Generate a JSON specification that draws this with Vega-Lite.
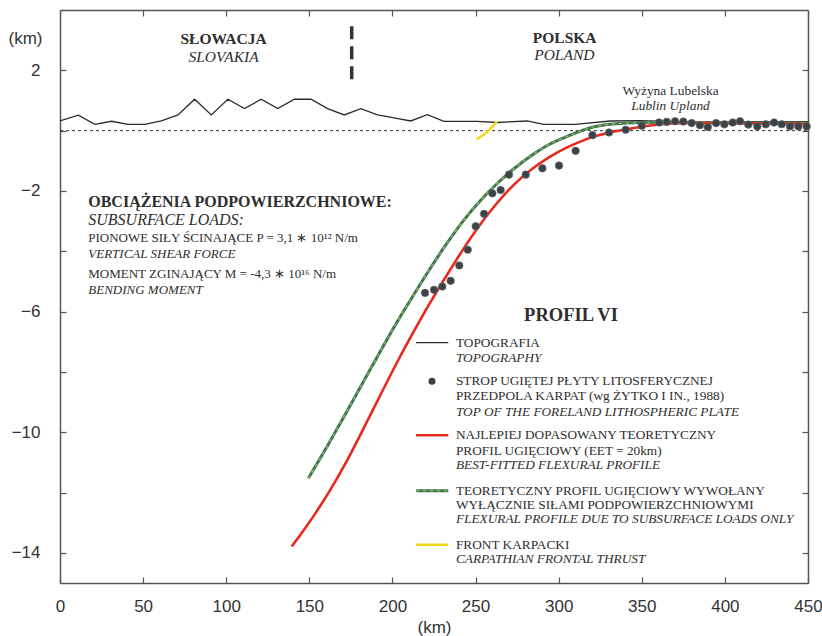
{
  "$schema": "https://vega.github.io/schema/vega-lite/v6.json",
  "width": 748,
  "height": 573,
  "autosize": {"type": "none"},
  "padding": {"left": 60, "top": 10, "right": 14, "bottom": 53},
  "background": "white",
  "config": {"view": {"stroke": null}},
  "datasets": {
    "topo": [
      {"x": 0, "y": 0.32}, {"x": 11, "y": 0.51}, {"x": 21, "y": 0.21}, {"x": 31, "y": 0.31}, {"x": 41, "y": 0.21},
      {"x": 51, "y": 0.21}, {"x": 61, "y": 0.32}, {"x": 71, "y": 0.52}, {"x": 81, "y": 1.04}, {"x": 91, "y": 0.52},
      {"x": 101, "y": 1.04}, {"x": 111, "y": 0.73}, {"x": 121, "y": 1.04}, {"x": 131, "y": 0.73}, {"x": 141, "y": 1.04},
      {"x": 151, "y": 1.04}, {"x": 161, "y": 0.73}, {"x": 171, "y": 0.52}, {"x": 181, "y": 0.73}, {"x": 191, "y": 0.52},
      {"x": 201, "y": 0.42}, {"x": 211, "y": 0.32}, {"x": 221, "y": 0.53}, {"x": 231, "y": 0.31}, {"x": 241, "y": 0.31},
      {"x": 251, "y": 0.31}, {"x": 263, "y": 0.27}, {"x": 281, "y": 0.32}, {"x": 291, "y": 0.21}, {"x": 310, "y": 0.21},
      {"x": 331, "y": 0.32}, {"x": 349, "y": 0.33}, {"x": 370, "y": 0.3}, {"x": 400, "y": 0.3}, {"x": 430, "y": 0.3},
      {"x": 450, "y": 0.3}
    ],
    "fit": [
      {"x": 139.4, "y": -13.79}, {"x": 146, "y": -13.3}, {"x": 152.4, "y": -12.8}, {"x": 162.4, "y": -11.95}, {"x": 172.5, "y": -10.98},
      {"x": 182.5, "y": -9.89}, {"x": 192.5, "y": -8.79}, {"x": 202.6, "y": -7.69}, {"x": 212.6, "y": -6.68},
      {"x": 222.6, "y": -5.7}, {"x": 232.6, "y": -4.8}, {"x": 242.6, "y": -3.92}, {"x": 252.7, "y": -3.1},
      {"x": 262.7, "y": -2.4}, {"x": 272.7, "y": -1.79}, {"x": 283.5, "y": -1.27}, {"x": 294.8, "y": -0.85},
      {"x": 304.8, "y": -0.55}, {"x": 314.8, "y": -0.32}, {"x": 320.7, "y": -0.2}, {"x": 330.5, "y": -0.06},
      {"x": 340.9, "y": 0.04}, {"x": 350.7, "y": 0.14}, {"x": 361, "y": 0.22}, {"x": 375, "y": 0.26},
      {"x": 400, "y": 0.25}, {"x": 425, "y": 0.24}, {"x": 450, "y": 0.22}
    ],
    "sub": [
      {"x": 149.4, "y": -11.53}, {"x": 162.4, "y": -10.31}, {"x": 172.5, "y": -9.32}, {"x": 182.5, "y": -8.33},
      {"x": 192.5, "y": -7.34}, {"x": 202.6, "y": -6.36}, {"x": 212.6, "y": -5.46}, {"x": 222.6, "y": -4.58},
      {"x": 232.6, "y": -3.75}, {"x": 242.6, "y": -2.99}, {"x": 252.7, "y": -2.33}, {"x": 262.7, "y": -1.77},
      {"x": 272.7, "y": -1.28}, {"x": 284.7, "y": -0.78}, {"x": 294.5, "y": -0.45}, {"x": 304.8, "y": -0.2},
      {"x": 320.7, "y": 0.12}, {"x": 340.9, "y": 0.25}, {"x": 361, "y": 0.28}, {"x": 400, "y": 0.27},
      {"x": 450, "y": 0.25}
    ],
    "front": [
      {"x": 262.7, "y": 0.3}, {"x": 260.5, "y": 0.15}, {"x": 258.7, "y": 0.05}, {"x": 256.7, "y": -0.06},
      {"x": 253.5, "y": -0.19}, {"x": 250.7, "y": -0.28}
    ],
    "strop": [
      {"x": 219.6, "y": -5.38}, {"x": 225.0, "y": -5.28}, {"x": 230.0, "y": -5.17}, {"x": 235.0, "y": -4.98},
      {"x": 240.2, "y": -4.47}, {"x": 245.3, "y": -3.95}, {"x": 250.1, "y": -3.17}, {"x": 255.1, "y": -2.76},
      {"x": 260.1, "y": -2.08}, {"x": 265.1, "y": -1.97}, {"x": 270.1, "y": -1.46}, {"x": 280.2, "y": -1.46},
      {"x": 290.2, "y": -1.25}, {"x": 300.2, "y": -1.16}, {"x": 310.2, "y": -0.67}, {"x": 320.3, "y": -0.15},
      {"x": 330.3, "y": -0.06}, {"x": 340.3, "y": 0.03}, {"x": 350.0, "y": 0.16}, {"x": 360.4, "y": 0.27},
      {"x": 365.0, "y": 0.29}, {"x": 370.0, "y": 0.31}, {"x": 375.0, "y": 0.3}, {"x": 380.0, "y": 0.25},
      {"x": 385.0, "y": 0.18}, {"x": 389.7, "y": 0.12}, {"x": 394.7, "y": 0.25}, {"x": 399.7, "y": 0.21},
      {"x": 404.7, "y": 0.27}, {"x": 409.1, "y": 0.31}, {"x": 414.1, "y": 0.2}, {"x": 419.5, "y": 0.14},
      {"x": 424.6, "y": 0.21}, {"x": 429.6, "y": 0.27}, {"x": 434.2, "y": 0.21}, {"x": 439.2, "y": 0.14},
      {"x": 444.2, "y": 0.14}, {"x": 449.2, "y": 0.14}
    ],
    "zero": [{"x": 0, "x2": 450, "y": 0}],
    "border": [{"x": 175.5, "y": 1.64, "y2": 3.46}],
    "legTopo": [{"x": 214.2, "x2": 233.6, "y": -7.03}],
    "legFit": [{"x": 214.2, "x2": 233.6, "y": -10.10}],
    "legSub": [{"x": 214.2, "x2": 233.6, "y": -11.94}],
    "legFront": [{"x": 214.2, "x2": 233.6, "y": -13.73}],
    "legDot": [{"x": 223.8, "y": -8.31}],
    "tCountryB": [{"x": 98.4, "y": 3.03, "t": "SŁOWACJA"}, {"x": 303.6, "y": 3.06, "t": "POLSKA"}],
    "tCountryI": [{"x": 98.4, "y": 2.43, "t": "SLOVAKIA"}, {"x": 303.4, "y": 2.5, "t": "POLAND"}],
    "tUplandR": [{"x": 367.3, "y": 1.31, "t": "Wyżyna Lubelska"}],
    "tUplandI": [{"x": 367.3, "y": 0.81, "t": "Lublin Upland"}],
    "tHeadB": [{"x": 17, "y": -2.36, "t": "OBCIĄŻENIA PODPOWIERZCHNIOWE:"}],
    "tHeadI": [{"x": 17, "y": -2.95, "t": "SUBSURFACE LOADS:"}],
    "tBlockR": [
      {"x": 17, "y": -3.57, "t": "PIONOWE SIŁY ŚCINAJĄCE P = 3,1 ∗ 10¹² N/m"},
      {"x": 17, "y": -4.77, "t": "MOMENT ZGINAJĄCY M = -4,3 ∗ 10¹⁶ N/m"}
    ],
    "tBlockI": [
      {"x": 17, "y": -4.08, "t": "VERTICAL SHEAR FORCE"},
      {"x": 17, "y": -5.27, "t": "BENDING MOMENT"}
    ],
    "tProfil": [{"x": 307.4, "y": -6.11, "t": "PROFIL VI"}],
    "tLegR": [
      {"x": 238.2, "y": -7.03, "t": "TOPOGRAFIA"},
      {"x": 238.2, "y": -8.31, "t": "STROP UGIĘTEJ PŁYTY LITOSFERYCZNEJ"},
      {"x": 238.2, "y": -8.81, "t": "PRZEDPOLA KARPAT (wg ŻYTKO I IN., 1988)"},
      {"x": 238.2, "y": -10.1, "t": "NAJLEPIEJ DOPASOWANY TEORETYCZNY"},
      {"x": 238.2, "y": -10.63, "t": "PROFIL UGIĘCIOWY (EET = 20km)"},
      {"x": 238.2, "y": -11.94, "t": "TEORETYCZNY PROFIL UGIĘCIOWY WYWOŁANY"},
      {"x": 238.2, "y": -12.41, "t": "WYŁĄCZNIE SIŁAMI PODPOWIERZCHNIOWYMI"},
      {"x": 238.2, "y": -13.73, "t": "FRONT KARPACKI"}
    ],
    "tLegI": [
      {"x": 238.2, "y": -7.53, "t": "TOPOGRAPHY"},
      {"x": 238.2, "y": -9.32, "t": "TOP OF THE FORELAND LITHOSPHERIC PLATE"},
      {"x": 238.2, "y": -11.09, "t": "BEST-FITTED FLEXURAL PROFILE"},
      {"x": 238.2, "y": -12.88, "t": "FLEXURAL PROFILE DUE TO SUBSURFACE LOADS ONLY"},
      {"x": 238.2, "y": -14.21, "t": "CARPATHIAN FRONTAL THRUST"}
    ]
  },
  "resolve": {"axis": {"x": "independent", "y": "independent"}},
  "layer": [
    {
      "layer": [
        {
          "data": {"name": "topo"},
          "mark": {"type": "line", "color": "#2b2b2b", "strokeWidth": 1.3},
          "encoding": {
            "x": {
              "field": "x", "type": "quantitative",
              "scale": {"domain": [0, 450], "nice": false, "zero": false},
              "axis": {
                "orient": "bottom", "values": [0, 50, 100, 150, 200, 250, 300, 350, 400, 450],
                "grid": false, "tickSize": -6, "tickColor": "#555", "tickWidth": 1.2,
                "domainColor": "#555", "domainWidth": 1.5,
                "labelFont": "Liberation Sans", "labelFontSize": 17, "labelColor": "#333", "labelPadding": 21,
                "labelFlush": false,
                "title": "(km)", "titleFont": "Liberation Sans", "titleFontSize": 17, "titleFontWeight": "normal",
                "titleColor": "#333", "titleX": 374, "titleY": 44, "titleBaseline": "middle", "titleAnchor": null
              }
            },
            "y": {
              "field": "y", "type": "quantitative",
              "scale": {"domain": [-15, 4], "nice": false, "zero": false},
              "axis": {
                "orient": "left", "values": [-14, -12, -10, -8, -6, -4, -2, 0, 2],
                "labelExpr": "abs(datum.value) % 4 == 2 ? datum.label : ''",
                "grid": false, "tickSize": -6, "tickColor": "#555", "tickWidth": 1.2,
                "domainColor": "#555", "domainWidth": 1.5,
                "labelFont": "Liberation Sans", "labelFontSize": 17, "labelColor": "#333", "labelPadding": 26,
                "labelFlush": false,
                "title": "(km)", "titleFont": "Liberation Sans", "titleFontSize": 17, "titleFontWeight": "normal",
                "titleColor": "#333", "titleAngle": 0, "titleX": -35, "titleY": 28,
                "titleAlign": "center", "titleBaseline": "middle", "titleAnchor": null
              }
            }
          }
        },
        {
          "data": {"name": "zero"},
          "mark": {"type": "rule", "color": "#333", "strokeWidth": 1, "strokeDash": [3, 3]},
          "encoding": {"x": {"field": "x", "type": "quantitative"}, "x2": {"field": "x2"}, "y": {"field": "y", "type": "quantitative"}}
        },
        {
          "data": {"name": "border"},
          "mark": {"type": "rule", "color": "#333", "strokeWidth": 3.5, "strokeDash": [13, 7]},
          "encoding": {"x": {"field": "x", "type": "quantitative"}, "y": {"field": "y2", "type": "quantitative"}, "y2": {"field": "y"}}
        },
        {
          "data": {"name": "sub"},
          "mark": {"type": "line", "color": "#3f7849", "strokeWidth": 3, "interpolate": "monotone"},
          "encoding": {"x": {"field": "x", "type": "quantitative"}, "y": {"field": "y", "type": "quantitative"}}
        },
        {
          "data": {"name": "sub"},
          "mark": {"type": "line", "color": "#a9c07e", "strokeWidth": 1.1, "strokeDash": [3, 4], "interpolate": "monotone"},
          "encoding": {"x": {"field": "x", "type": "quantitative"}, "y": {"field": "y", "type": "quantitative"}}
        },
        {
          "data": {"name": "fit"},
          "mark": {"type": "line", "color": "#e8281c", "strokeWidth": 2.6, "interpolate": "basis"},
          "encoding": {"x": {"field": "x", "type": "quantitative"}, "y": {"field": "y", "type": "quantitative"}}
        },
        {
          "data": {"name": "front"},
          "mark": {"type": "line", "color": "#f2d81e", "strokeWidth": 2.5, "interpolate": "monotone"},
          "encoding": {"x": {"field": "x", "type": "quantitative"}, "y": {"field": "y", "type": "quantitative"}}
        },
        {
          "data": {"name": "strop"},
          "mark": {"type": "circle", "color": "#3c4346", "opacity": 1, "size": 58, "stroke": "#6a7174", "strokeWidth": 0.6},
          "encoding": {"x": {"field": "x", "type": "quantitative"}, "y": {"field": "y", "type": "quantitative"}}
        },
        {
          "data": {"name": "legTopo"},
          "mark": {"type": "rule", "color": "#2b2b2b", "strokeWidth": 1.3},
          "encoding": {"x": {"field": "x", "type": "quantitative"}, "x2": {"field": "x2"}, "y": {"field": "y", "type": "quantitative"}}
        },
        {
          "data": {"name": "legFit"},
          "mark": {"type": "rule", "color": "#e8281c", "strokeWidth": 2.6},
          "encoding": {"x": {"field": "x", "type": "quantitative"}, "x2": {"field": "x2"}, "y": {"field": "y", "type": "quantitative"}}
        },
        {
          "data": {"name": "legSub"},
          "mark": {"type": "rule", "color": "#3f7849", "strokeWidth": 3},
          "encoding": {"x": {"field": "x", "type": "quantitative"}, "x2": {"field": "x2"}, "y": {"field": "y", "type": "quantitative"}}
        },
        {
          "data": {"name": "legSub"},
          "mark": {"type": "rule", "color": "#a9c07e", "strokeWidth": 1.1, "strokeDash": [3, 4]},
          "encoding": {"x": {"field": "x", "type": "quantitative"}, "x2": {"field": "x2"}, "y": {"field": "y", "type": "quantitative"}}
        },
        {
          "data": {"name": "legFront"},
          "mark": {"type": "rule", "color": "#f2d81e", "strokeWidth": 2.5},
          "encoding": {"x": {"field": "x", "type": "quantitative"}, "x2": {"field": "x2"}, "y": {"field": "y", "type": "quantitative"}}
        },
        {
          "data": {"name": "legDot"},
          "mark": {"type": "circle", "color": "#3c4346", "opacity": 1, "size": 50},
          "encoding": {"x": {"field": "x", "type": "quantitative"}, "y": {"field": "y", "type": "quantitative"}}
        },
        {
          "data": {"name": "tCountryB"},
          "mark": {"type": "text", "font": "Liberation Serif", "fontSize": 15.5, "fontWeight": "bold", "color": "#2e2e2e", "align": "center", "baseline": "middle"},
          "encoding": {"x": {"field": "x", "type": "quantitative"}, "y": {"field": "y", "type": "quantitative"}, "text": {"field": "t"}}
        },
        {
          "data": {"name": "tCountryI"},
          "mark": {"type": "text", "font": "Liberation Serif", "fontSize": 15.5, "fontStyle": "italic", "color": "#2e2e2e", "align": "center", "baseline": "middle"},
          "encoding": {"x": {"field": "x", "type": "quantitative"}, "y": {"field": "y", "type": "quantitative"}, "text": {"field": "t"}}
        },
        {
          "data": {"name": "tUplandR"},
          "mark": {"type": "text", "font": "Liberation Serif", "fontSize": 13.4, "color": "#2e2e2e", "align": "center", "baseline": "middle"},
          "encoding": {"x": {"field": "x", "type": "quantitative"}, "y": {"field": "y", "type": "quantitative"}, "text": {"field": "t"}}
        },
        {
          "data": {"name": "tUplandI"},
          "mark": {"type": "text", "font": "Liberation Serif", "fontSize": 13.4, "fontStyle": "italic", "color": "#2e2e2e", "align": "center", "baseline": "middle"},
          "encoding": {"x": {"field": "x", "type": "quantitative"}, "y": {"field": "y", "type": "quantitative"}, "text": {"field": "t"}}
        },
        {
          "data": {"name": "tHeadB"},
          "mark": {"type": "text", "font": "Liberation Serif", "fontSize": 16, "fontWeight": "bold", "color": "#2e2e2e", "align": "left", "baseline": "middle"},
          "encoding": {"x": {"field": "x", "type": "quantitative"}, "y": {"field": "y", "type": "quantitative"}, "text": {"field": "t"}}
        },
        {
          "data": {"name": "tHeadI"},
          "mark": {"type": "text", "font": "Liberation Serif", "fontSize": 16, "fontStyle": "italic", "color": "#2e2e2e", "align": "left", "baseline": "middle"},
          "encoding": {"x": {"field": "x", "type": "quantitative"}, "y": {"field": "y", "type": "quantitative"}, "text": {"field": "t"}}
        },
        {
          "data": {"name": "tBlockR"},
          "mark": {"type": "text", "font": "Liberation Serif", "fontSize": 13, "color": "#2e2e2e", "align": "left", "baseline": "middle"},
          "encoding": {"x": {"field": "x", "type": "quantitative"}, "y": {"field": "y", "type": "quantitative"}, "text": {"field": "t"}}
        },
        {
          "data": {"name": "tBlockI"},
          "mark": {"type": "text", "font": "Liberation Serif", "fontSize": 13, "fontStyle": "italic", "color": "#2e2e2e", "align": "left", "baseline": "middle"},
          "encoding": {"x": {"field": "x", "type": "quantitative"}, "y": {"field": "y", "type": "quantitative"}, "text": {"field": "t"}}
        },
        {
          "data": {"name": "tProfil"},
          "mark": {"type": "text", "font": "Liberation Serif", "fontSize": 18.5, "fontWeight": "bold", "color": "#2e2e2e", "align": "center", "baseline": "middle"},
          "encoding": {"x": {"field": "x", "type": "quantitative"}, "y": {"field": "y", "type": "quantitative"}, "text": {"field": "t"}}
        },
        {
          "data": {"name": "tLegR"},
          "mark": {"type": "text", "font": "Liberation Serif", "fontSize": 13.3, "color": "#2e2e2e", "align": "left", "baseline": "middle"},
          "encoding": {"x": {"field": "x", "type": "quantitative"}, "y": {"field": "y", "type": "quantitative"}, "text": {"field": "t"}}
        },
        {
          "data": {"name": "tLegI"},
          "mark": {"type": "text", "font": "Liberation Serif", "fontSize": 13.3, "fontStyle": "italic", "color": "#2e2e2e", "align": "left", "baseline": "middle"},
          "encoding": {"x": {"field": "x", "type": "quantitative"}, "y": {"field": "y", "type": "quantitative"}, "text": {"field": "t"}}
        }
      ]
    },
    {
      "data": {"name": "zero"},
      "mark": {"type": "rule", "opacity": 0},
      "encoding": {
        "x": {
          "field": "x", "type": "quantitative",
          "scale": {"domain": [0, 450], "nice": false, "zero": false},
          "axis": {
            "orient": "top", "values": [50, 100, 150, 200, 250, 300, 350, 400], "labels": false, "title": null,
            "grid": false, "tickSize": -6, "tickColor": "#555", "tickWidth": 1.2, "domainColor": "#555", "domainWidth": 1.5
          }
        },
        "x2": {"field": "x2"},
        "y": {
          "field": "y", "type": "quantitative",
          "scale": {"domain": [-15, 4], "nice": false, "zero": false},
          "axis": {
            "orient": "right", "values": [-14, -12, -10, -8, -6, -4, -2, 0, 2], "labels": false, "title": null,
            "grid": false, "tickSize": -6, "tickColor": "#555", "tickWidth": 1.2, "domainColor": "#555", "domainWidth": 1.5
          }
        }
      }
    }
  ]
}
